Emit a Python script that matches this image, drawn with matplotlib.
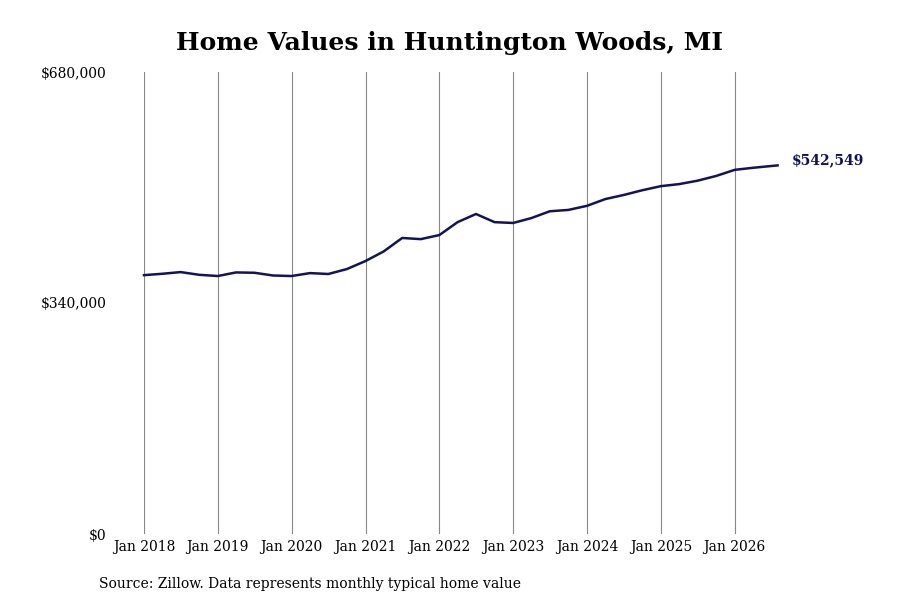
import matplotlib
matplotlib.use('Agg')
import matplotlib.pyplot as plt
import matplotlib.dates as mdates
import pandas as pd

# quarterly typical home values
dates = pd.to_datetime(['2018-01-01', '2018-04-01', '2018-07-01', '2018-10-01',
                        '2019-01-01', '2019-04-01', '2019-07-01', '2019-10-01',
                        '2020-01-01', '2020-04-01', '2020-07-01', '2020-10-01',
                        '2021-01-01', '2021-04-01', '2021-07-01', '2021-10-01',
                        '2022-01-01', '2022-04-01', '2022-07-01', '2022-10-01',
                        '2023-01-01', '2023-04-01', '2023-07-01', '2023-10-01',
                        '2024-01-01', '2024-04-01', '2024-07-01', '2024-10-01',
                        '2025-01-01', '2025-04-01', '2025-07-01', '2025-10-01',
                        '2026-01-01', '2026-04-01', '2026-08-01'])
values = [381000, 383000, 385500, 381500,
          379700, 385000, 384500, 380500,
          379700, 384000, 382700, 390000,
          401800, 416000, 435700, 434000,
          440000, 459000, 471000, 459000,
          457800, 465000, 475000, 477000,
          483000, 493000, 499000, 506000,
          512000, 515000, 520000, 527000,
          536000, 539000, 542549]
y_ticks = [0, 340000, 680000]
last_label = '$542,549'

plt.rcParams['font.family'] = ['DejaVu Serif']
fig = plt.figure(figsize=(9, 6), dpi=100)
ax = fig.add_axes([0.16, 0.11, 0.704, 0.77])
ax.plot(dates, values, color='#13125e', linewidth=1.8, clip_on=False)
ax.set_xlim(pd.Timestamp('2018-01-01'), pd.Timestamp('2026-08-01'))
ax.set_ylim(0, 680000)
ax.set_yticks(y_ticks)
ax.set_yticklabels(['${:,}'.format(v) for v in y_ticks])
ax.xaxis.set_major_locator(mdates.YearLocator())
ax.xaxis.set_major_formatter(mdates.DateFormatter('Jan %Y'))
ax.grid(axis='x', color='#888888', linewidth=0.8)
for s in ax.spines.values():
    s.set_visible(False)
ax.tick_params(axis='y', length=0, pad=27, labelsize=10)
ax.tick_params(axis='x', length=0, pad=4, labelsize=10)
ax.annotate(last_label, (dates[-1], values[-1]), xytext=(10, 4), textcoords='offset points',
            va='center', fontsize=10, fontweight='bold', color='#13125e')
fig.suptitle('Home Values in Huntington Woods, MI', y=0.948, fontsize=18, fontweight='bold')
fig.text(0.11, 0.02, 'Source: Zillow. Data represents monthly typical home value', fontsize=10)
fig.savefig('out.png')
